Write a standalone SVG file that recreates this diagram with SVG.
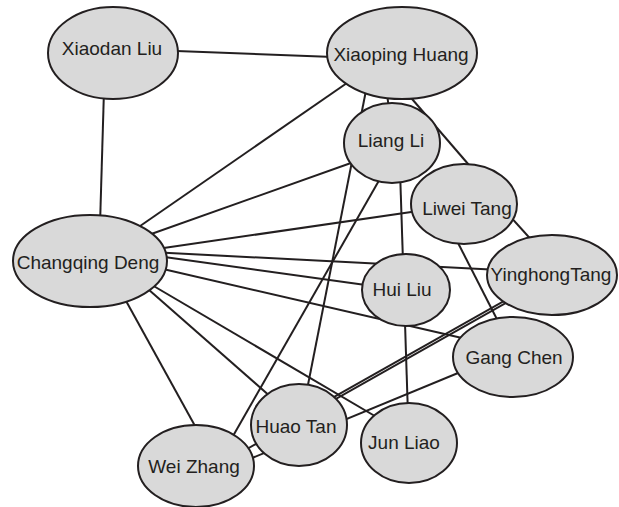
<svg xmlns="http://www.w3.org/2000/svg" width="619" height="507" viewBox="0 0 619 507">
<style>
.e{fill:#d9d9d9;stroke:#231f20;stroke-width:2}
.t{font-family:"Liberation Sans",Arial,sans-serif;font-size:19px;fill:#231f20;text-anchor:middle}
#edges line{stroke:#231f20;stroke-width:2}
</style>
<rect width="619" height="507" fill="#fff"/>
<g id="edges">
<line x1="150" y1="50" x2="360" y2="58"/>
<line x1="104" y1="90" x2="100" y2="225"/>
<line x1="130" y1="233" x2="360" y2="74"/>
<line x1="140" y1="238" x2="365" y2="158"/>
<line x1="150" y1="250" x2="425" y2="210"/>
<line x1="150" y1="252" x2="500" y2="270"/>
<line x1="150" y1="255" x2="380" y2="287"/>
<line x1="150" y1="266" x2="475" y2="341"/>
<line x1="140" y1="278" x2="385" y2="422"/>
<line x1="140" y1="282" x2="280" y2="405"/>
<line x1="120" y1="290" x2="200" y2="435"/>
<line x1="384" y1="70" x2="391" y2="125"/>
<line x1="400" y1="85" x2="475" y2="172"/>
<line x1="372" y1="60" x2="305" y2="400"/>
<line x1="385" y1="170" x2="225" y2="450"/>
<line x1="400" y1="170" x2="408" y2="415"/>
<line x1="500" y1="205" x2="545" y2="255"/>
<line x1="455" y1="237" x2="505" y2="335"/>
<line x1="520" y1="292" x2="320" y2="404.9"/>
<line x1="520" y1="295" x2="240" y2="453"/>
<line x1="475" y1="366" x2="245" y2="461"/>
</g>
<g id="xiaodan-liu"><ellipse class="e" cx="113" cy="53" rx="65" ry="46"/><text class="t" x="112" y="55">Xiaodan Liu</text></g>
<g id="xiaoping-huang"><ellipse class="e" cx="402" cy="53" rx="75" ry="46"/><text class="t" x="401" y="61">Xiaoping Huang</text></g>
<g id="liang-li"><ellipse class="e" cx="392" cy="143" rx="48" ry="40"/><text class="t" x="391" y="147">Liang Li</text></g>
<g id="liwei-tang"><ellipse class="e" cx="464" cy="204" rx="53" ry="40"/><text class="t" x="467" y="215">Liwei Tang</text></g>
<g id="changqing-deng"><ellipse class="e" cx="90" cy="261" rx="77" ry="46"/><text class="t" x="88" y="269">Changqing Deng</text></g>
<g id="yinghongtang"><ellipse class="e" cx="552" cy="275" rx="65" ry="40"/><text class="t" x="551" y="281">YinghongTang</text></g>
<g id="hui-liu"><ellipse class="e" cx="406" cy="290" rx="44" ry="36"/><text class="t" x="402" y="296">Hui Liu</text></g>
<g id="gang-chen"><ellipse class="e" cx="513" cy="357" rx="60" ry="40"/><text class="t" x="514" y="364">Gang Chen</text></g>
<g id="huao-tan"><ellipse class="e" cx="299" cy="425" rx="48" ry="41"/><text class="t" x="296" y="433">Huao Tan</text></g>
<g id="jun-liao"><ellipse class="e" cx="409" cy="443" rx="48" ry="40"/><text class="t" x="404" y="449">Jun Liao</text></g>
<g id="wei-zhang"><ellipse class="e" cx="196" cy="466" rx="58" ry="41"/><text class="t" x="194" y="473">Wei Zhang</text></g>
</svg>
